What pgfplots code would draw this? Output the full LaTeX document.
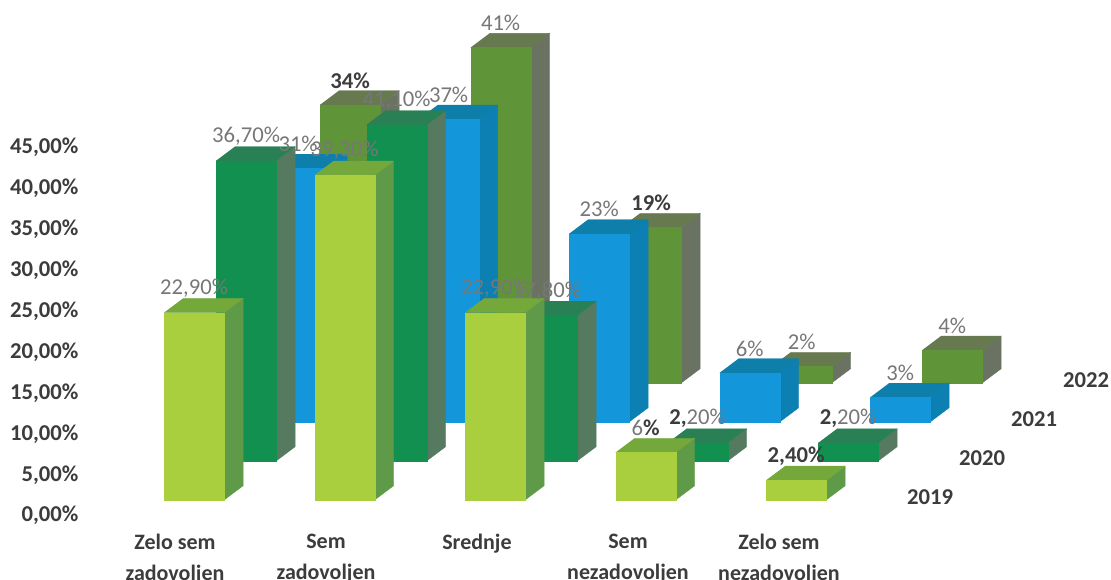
\documentclass[border=0pt]{standalone}
\usepackage{pgfplots}
\pgfplotsset{compat=1.18}
\usepackage{fontspec}
\setmainfont{Carlito}

% series colours: front, top, side
\definecolor{aF}{HTML}{A9CF3F}\definecolor{aT}{HTML}{74A83A}\definecolor{aS}{HTML}{5F9A48}
\definecolor{bF}{HTML}{129050}\definecolor{bT}{HTML}{2A8055}\definecolor{bS}{HTML}{567A60}
\definecolor{cF}{HTML}{1496DA}\definecolor{cT}{HTML}{0E7FAA}\definecolor{cS}{HTML}{0C80B2}
\definecolor{dF}{HTML}{5F9438}\definecolor{dT}{HTML}{66794F}\definecolor{dS}{HTML}{6A7262}
\definecolor{lblgrey}{HTML}{777777}
\definecolor{lbldark}{HTML}{3C3C3C}

% #1 category, #2 series, #3 value, #4 colour prefix
\newcommand{\onebar}[4]{%
  \pgfmathsetmacro\xa{#1}\pgfmathsetmacro\xb{#1+0.4}%
  \pgfmathsetmacro\ya{#2}\pgfmathsetmacro\yb{#2+0.365}%
  \addplot3[draw=#4S,fill=#4S,line width=.2pt,no marks,forget plot] coordinates
    {(\xb,\ya,0) (\xb,\yb,0) (\xb,\yb,#3) (\xb,\ya,#3)};
  \addplot3[draw=#4T,fill=#4T,line width=.2pt,no marks,forget plot] coordinates
    {(\xa,\ya,#3) (\xb,\ya,#3) (\xb,\yb,#3) (\xa,\yb,#3)};
  \addplot3[draw=#4F,fill=#4F,line width=.2pt,no marks,forget plot] coordinates
    {(\xa,\ya,0) (\xb,\ya,0) (\xb,\ya,#3) (\xa,\ya,#3)};
}
% #1 category, #2 series, #3 value, #4 text, #5 colour
\newcommand{\lbl}[5]{%
  \node[text=#5,font=\fontsize{17}{19}\selectfont] at (axis cs:#1+0.2,#2,#3+3.0) {#4};
}
\newcommand{\dk}[1]{\textcolor{lbldark}{\textbf{#1}}}

\begin{document}
\begin{tikzpicture}
\useasboundingbox (0,0) rectangle (833.25pt,435pt);

% tick labels only
\begin{axis}[
    at={(60pt,37.5pt)}, anchor=south west,
    scale only axis, width=773.25pt, height=397.5pt,
    xmin=-0.629, xmax=6.199, ymin=-1.75, ymax=63.04,
    axis line style={draw=none},
    major tick length=0pt,
    xtick={0,1,2,3,4},
    xticklabels={{Zelo sem\\zadovoljen},{Sem\\zadovoljen},{Srednje},{Sem\\nezadovoljen},{Zelo sem\\nezadovoljen}},
    ytick={0,5,10,15,20,25,30,35,40,45},
    yticklabels={{0,00\%},{5,00\%},{10,00\%},{15,00\%},{20,00\%},{25,00\%},{30,00\%},{35,00\%},{40,00\%},{45,00\%}},
    xticklabel style={align=center,text=lbldark,yshift=-2pt,font=\fontsize{16.5}{23}\selectfont\bfseries},
    yticklabel style={text=lbldark,font=\fontsize{17}{19}\selectfont\bfseries},
    tick label style={inner sep=1pt},
]
\end{axis}

% bars: oblique projection, x category, y series, z percent
\begin{axis}[
    at={(123pt,60pt)}, anchor=origin,
    x={(112.875pt,0pt)}, y={(39pt,29.25pt)}, z={(0pt,6.135pt)},
    xmin=0, xmax=6, ymin=0, ymax=4, zmin=0, zmax=50,
    hide axis, clip=false,
]
% 2022
\onebar{0}{3}{34}{d}\onebar{1}{3}{41}{d}\onebar{2}{3}{19}{d}\onebar{3}{3}{2}{d}\onebar{4}{3}{4}{d}
% 2021
\onebar{0}{2}{31}{c}\onebar{1}{2}{37}{c}\onebar{2}{2}{23}{c}\onebar{3}{2}{6}{c}\onebar{4}{2}{3}{c}
% 2020
\onebar{0}{1}{36.7}{b}\onebar{1}{1}{41.1}{b}\onebar{2}{1}{17.8}{b}\onebar{3}{1}{2.2}{b}\onebar{4}{1}{2.2}{b}
% 2019
\onebar{0}{0}{22.9}{a}\onebar{1}{0}{39.7}{a}\onebar{2}{0}{22.9}{a}\onebar{3}{0}{5.8}{a}\onebar{4}{0}{2.4}{a}

\lbl{0}{3}{34}{\textbf{34\%}}{lbldark}
\lbl{1}{3}{41}{41\%}{lblgrey}
\lbl{2}{3}{19}{\textbf{19\%}}{lbldark}
\lbl{3}{3}{2}{2\%}{lblgrey}
\lbl{4}{3}{4}{4\%}{lblgrey}
\lbl{0}{2}{31}{31\%}{lblgrey}
\lbl{1}{2}{37}{37\%}{lblgrey}
\lbl{2}{2}{23}{23\%}{lblgrey}
\lbl{3}{2}{6}{6\%}{lblgrey}
\lbl{4}{2}{3}{3\%}{lblgrey}
\lbl{0}{1}{36.7}{36,70\%}{lblgrey}
\lbl{1}{1}{41.1}{41,10\%}{lblgrey}
\lbl{2}{1}{17.8}{17,80\%}{lblgrey}
\lbl{3}{1}{2.2}{\dk{2,}20\%}{lblgrey}
\lbl{4}{1}{2.2}{\dk{2,}20\%}{lblgrey}
\lbl{0}{0}{22.9}{22,90\%}{lblgrey}
\lbl{1}{0}{39.7}{39,30\%}{lblgrey}
\lbl{2}{0}{22.9}{22,90\%}{lblgrey}
\lbl{3}{0}{5.8}{6\dk{\%}}{lblgrey}
\lbl{4}{0}{2.4}{\textbf{2,40\%}}{lbldark}

% series names
\node[text=lbldark,font=\fontsize{17}{19}\selectfont\bfseries] at (axis cs:5.09,0,0.3) {2019};
\node[text=lbldark,font=\fontsize{17}{19}\selectfont\bfseries] at (axis cs:5.09,1,0.3) {2020};
\node[text=lbldark,font=\fontsize{17}{19}\selectfont\bfseries] at (axis cs:5.09,2,0.3) {2021};
\node[text=lbldark,font=\fontsize{17}{19}\selectfont\bfseries] at (axis cs:5.09,3,0.3) {2022};
\end{axis}
\end{tikzpicture}
\end{document}
